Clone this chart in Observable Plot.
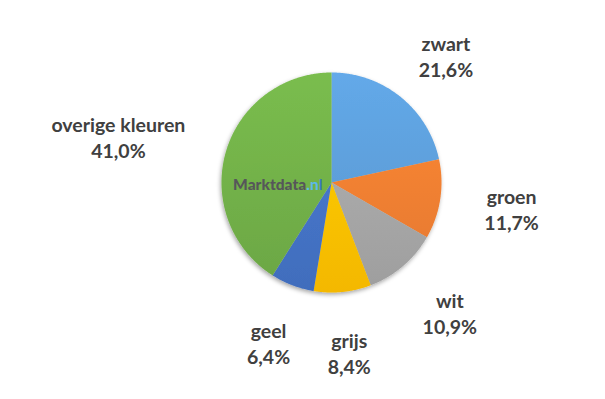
<!DOCTYPE html>
<html>
<head>
<meta charset="utf-8">
<script src="https://cdn.jsdelivr.net/npm/d3@7"></script>
<script src="https://cdn.jsdelivr.net/npm/@observablehq/plot@0.6"></script>
<style>
  html, body { margin: 0; padding: 0; background: #fff; }
  #chart { width: 605px; height: 399px; }
</style>
</head>
<body>
<div id="chart"></div>
<script>
const categories = ["zwart", "groen", "wit", "grijs", "geel", "overige kleuren"];
const values = [21.6, 11.7, 10.9, 8.4, 6.4, 41.0];
const colors = ["#5B9BD5", "#ED7D31", "#A5A5A5", "#FFC000", "#4472C4", "#70AD47"];

const W = 605, H = 399;
const CX = 331, CY = 182, R = 110;
const FONT = "Lato";
const FS = 19.5, LH = 26;
const GAP = 45;          // distance from pie edge to label anchor
const HH_UP = 8, HH_DOWN = 16; // vertical push-out of the label box

const total = d3.sum(values);
const fmt = v => v.toFixed(1).replace(".", ",") + "%";

// slice polygons in unit-circle coordinates
const slicePts = [];
const labelRows = [];
const ctx = document.createElement("canvas").getContext("2d");
ctx.font = `bold ${FS}px ${FONT}`;
let acc = 0;
categories.forEach((c, i) => {
  const a0 = acc / total * 2 * Math.PI;
  acc += values[i];
  const a1 = acc / total * 2 * Math.PI;
  slicePts.push({cat: c, x: 0, y: 0, i});
  const n = Math.max(2, Math.ceil((a1 - a0) / (Math.PI / 360)));
  for (let k = 0; k <= n; k++) {
    const a = a0 + (a1 - a0) * k / n;
    slicePts.push({cat: c, x: Math.sin(a), y: Math.cos(a), i});
  }
  const am = (a0 + a1) / 2;
  const s = Math.sin(am), co = Math.cos(am);
  const text = c + "\n" + fmt(values[i]);
  const hw = Math.max(ctx.measureText(c).width, ctx.measureText(fmt(values[i])).width) / 2;
  const hh = co > 0 ? HH_UP : HH_DOWN;
  const px = s * (R + GAP) + s * hw;
  const py = co * (R + GAP) + co * hh;
  labelRows.push({text, x: px / R, y: py / R});
});

const chart = Plot.plot({
  width: W,
  height: H,
  margin: 0,
  x: {axis: null, domain: [-CX / R, (W - CX) / R], range: [0, W]},
  y: {axis: null, domain: [-(H - CY) / R, CY / R], range: [H, 0]},
  color: {domain: categories, range: colors},
  style: {fontFamily: FONT, background: "#fff"},
  marks: [
    Plot.line(slicePts, {x: "x", y: "y", z: "cat", fill: "cat", stroke: "none", curve: "linear-closed"}),
    Plot.text(["Marktdata"], {x: [-0.23], y: [0.0], text: d => d, textAnchor: "end", lineAnchor: "bottom", fontSize: 15.5, fontWeight: "900", fill: "#56565a", dy: 7}),
    Plot.text([".nl"], {x: [-0.23], y: [0.0], text: d => d, textAnchor: "start", lineAnchor: "bottom", fontSize: 15.5, fontWeight: "bold", fill: "#4a9ee0", dy: 7}),
    Plot.text(labelRows, {x: "x", y: "y", text: "text", fontSize: FS, fontWeight: "bold", fill: "#404040", lineHeight: LH / FS, lineAnchor: "middle"})
  ]
});

// gradients + shadow
const svg = d3.select(chart);
const defs = svg.insert("defs", ":first-child");
const f = defs.append("filter").attr("id", "pieShadow").attr("x", "-20%").attr("y", "-20%").attr("width", "140%").attr("height", "140%");
f.append("feDropShadow").attr("dx", -1).attr("dy", 2).attr("stdDeviation", 2).attr("flood-color", "#000").attr("flood-opacity", 0.35);
colors.forEach((col, i) => {
  const g = defs.append("linearGradient").attr("id", "grad" + i)
    .attr("gradientUnits", "userSpaceOnUse")
    .attr("x1", CX).attr("y1", CY - R).attr("x2", CX).attr("y2", CY + R);
  g.append("stop").attr("offset", "0%").attr("stop-color", d3.color(col).brighter(0.25).formatHex());
  g.append("stop").attr("offset", "100%").attr("stop-color", d3.color(col).darker(0.12).formatHex());
});
const lineG = svg.select('g[aria-label="line"]');
lineG.attr("filter", "url(#pieShadow)");
lineG.selectAll("path").each(function() {
  const p = d3.select(this);
  const fill = (p.attr("fill") || "").toLowerCase();
  const idx = colors.findIndex(c => c.toLowerCase() === fill);
  if (idx >= 0) p.attr("fill", `url(#grad${idx})`);
});
// colour the "l" of the watermark darker blue
const wm = svg.selectAll('g[aria-label="text"]').filter((d, i) => i === 1).select("text");
if (!wm.empty()) {
  wm.text("");
  wm.append("tspan").attr("fill", "#5bb8ec").text(".n");
  wm.append("tspan").attr("fill", "#3a78c2").text("l");
}
document.getElementById("chart").appendChild(chart);
</script>
</body>
</html>
